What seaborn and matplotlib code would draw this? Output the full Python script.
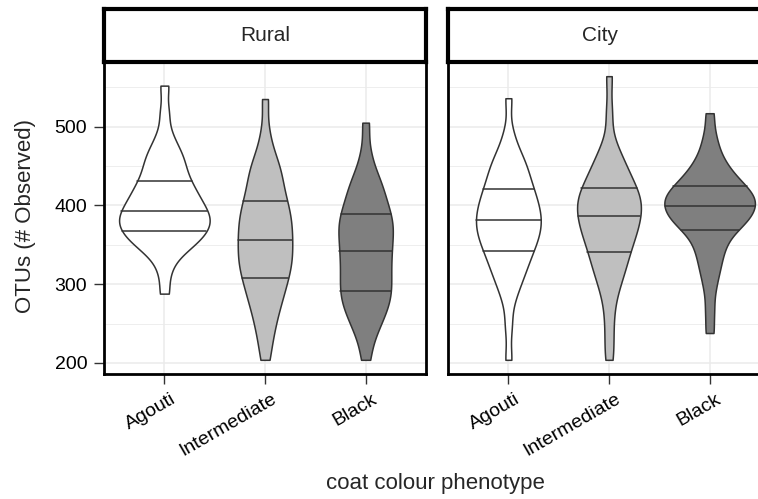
import pandas as pd
import numpy as np
import matplotlib
matplotlib.use("Agg")
import matplotlib.pyplot as plt
import matplotlib.transforms as mtransforms
import seaborn as sns

# estilo tipo ggplot theme_bw
sns.set_theme(style="white")
plt.rcParams['font.family'] = ['Liberation Sans', 'DejaVu Sans']

# DATOS (valores estimados del grafico, OTUs observados por grupo)
fenotipos = ["Agouti", "Intermediate", "Black"]
zonas = ["Rural", "City"]

rural_agouti = [288, 314, 332, 340, 346, 351, 354, 357, 361, 364,
                367, 370, 373, 375, 378, 381, 383, 386, 389, 392,
                393, 398, 401, 404, 408, 411, 415, 419, 424, 428,
                431, 439, 444, 450, 456, 463, 469, 478, 492, 518, 552]
rural_intermediate = [204, 227, 242, 255, 265, 274, 282, 289, 295, 301,
                      308, 313, 318, 323, 327, 332, 337, 342, 346, 351,
                      356, 361, 366, 370, 375, 380, 385, 390, 395, 400,
                      405, 412, 419, 426, 434, 441, 448, 457, 468, 492, 535]
rural_black = [204, 228, 242, 250, 258, 265, 271, 276, 281, 286,
               291, 296, 301, 306, 311, 316, 322, 327, 332, 337,
               342, 347, 352, 357, 362, 367, 371, 376, 380, 385,
               389, 395, 400, 407, 414, 420, 427, 436, 446, 468, 505]
city_agouti = [204, 247, 279, 294, 304, 312, 319, 325, 331, 337,
               342, 347, 351, 355, 359, 363, 367, 371, 374, 378,
               381, 385, 388, 392, 396, 400, 404, 408, 412, 417,
               421, 426, 432, 437, 444, 450, 455, 463, 473, 492, 536]
city_intermediate = [204, 231, 258, 281, 296, 305, 315, 322, 328, 334,
                     341, 347, 352, 357, 361, 366, 370, 374, 378, 382,
                     386, 390, 393, 397, 400, 404, 408, 411, 415, 418,
                     422, 427, 432, 438, 444, 450, 457, 466, 480, 518, 564]
city_black = [238, 266, 292, 310, 321, 332, 341, 349, 356, 363,
              369, 373, 376, 379, 382, 385, 388, 390, 393, 396,
              399, 401, 403, 406, 408, 411, 413, 416, 418, 421,
              424, 428, 432, 436, 441, 447, 453, 462, 474, 490, 517]

grupos = {
    ("Rural", "Agouti"): rural_agouti,
    ("Rural", "Intermediate"): rural_intermediate,
    ("Rural", "Black"): rural_black,
    ("City", "Agouti"): city_agouti,
    ("City", "Intermediate"): city_intermediate,
    ("City", "Black"): city_black,
}

filas = []
for (zona, fen), valores in grupos.items():
    for v in valores:
        filas.append({"zona": zona, "fenotipo": fen, "otus": v})
df = pd.DataFrame(filas)

colores = {"Agouti": "#FFFFFF", "Intermediate": "#BFBFBF", "Black": "#7F7F7F"}

# FIGURA
fig = plt.figure(figsize=(7.58, 4.99), dpi=100)
W, H = 758, 499

def caja(x0, y0, x1, y1):
    return [x0 / W, 1 - y1 / H, (x1 - x0) / W, (y1 - y0) / H]

paneles = {"Rural": (104, 426), "City": (448, 770)}
y_top, y_bot = 62, 374

for i, zona in enumerate(zonas):
    x0, x1 = paneles[zona]
    ax = fig.add_axes(caja(x0, y_top, x1, y_bot))
    sub = df[df["zona"] == zona]
    # common_norm=True: mismo factor de escala para los tres violines del panel
    sns.violinplot(data=sub, x="fenotipo", y="otus", hue="fenotipo", order=fenotipos,
                   hue_order=fenotipos, palette=colores, cut=0, inner="quart",
                   density_norm="area", common_norm=True, width=0.9,
                   linecolor="#333333", linewidth=1.1,
                   bw_adjust=0.55, gridsize=200, legend=False, ax=ax)
    for ln in ax.lines:
        ln.set_linestyle("-")
        ln.set_color("#333333")
        ln.set_linewidth(1.1)

    ax.set_xlim(-0.6, 2.6)
    ax.set_ylim(186, 582)
    ax.set_yticks([200, 300, 400, 500])
    ax.set_yticks([250, 350, 450, 550], minor=True)
    ax.grid(True, which="major", color="#EBEBEB", linewidth=1.1)
    ax.grid(True, which="minor", axis="y", color="#EBEBEB", linewidth=0.6)
    ax.set_axisbelow(True)
    for sp in ax.spines.values():
        sp.set_visible(True)
        sp.set_color("black")
        sp.set_linewidth(2.0)
    ax.set_xlabel("")
    ax.set_ylabel("")
    ax.tick_params(axis="x", which="major", length=7, width=1, color="#333333",
                   labelsize=14, labelcolor="black", bottom=True, pad=5)
    desplazar = mtransforms.ScaledTranslation(6 / 100, 0, fig.dpi_scale_trans)
    for lab in ax.get_xticklabels():
        lab.set_rotation(30)
        lab.set_ha("right")
        lab.set_va("top")
        lab.set_rotation_mode("anchor")
        lab.set_transform(lab.get_transform() + desplazar)
    if i == 0:
        ax.tick_params(axis="y", which="major", length=7, width=1, color="#333333",
                       labelsize=14, labelcolor="black", left=True, pad=5)
    else:
        ax.tick_params(axis="y", which="both", left=False, labelleft=False)
    ax.tick_params(axis="y", which="minor", left=False)

    # tira del facet
    st = fig.add_axes(caja(x0, 9, x1, y_top))
    st.set_xticks([])
    st.set_yticks([])
    st.set_facecolor("white")
    for sp in st.spines.values():
        sp.set_color("black")
        sp.set_linewidth(3.0)
    cx = 0.5 if zona == "Rural" else (600 - x0) / (x1 - x0)
    st.text(cx, 0.5, zona, ha="center", va="center", fontsize=15, transform=st.transAxes)

fig.text(435 / W, 1 - 483 / H, "coat colour phenotype", ha="center", va="center", fontsize=16)
fig.text(26 / W, 1 - 216 / H, "OTUs (# Observed)", ha="center", va="center",
         rotation=90, fontsize=16)

fig.savefig("out.png", dpi=100)
